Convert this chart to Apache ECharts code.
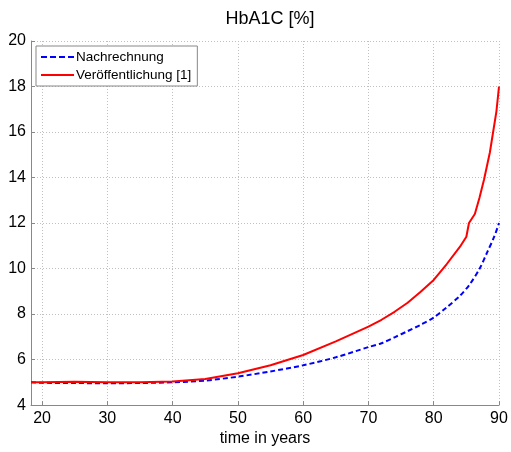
<!DOCTYPE html>
<html>
<head>
<meta charset="utf-8">
<script src="https://cdn.jsdelivr.net/npm/echarts@6/dist/echarts.min.js"></script>
<style>html,body{margin:0;padding:0;background:#fff}#c{width:511px;height:452px}</style>
</head>
<body>
<div id="c"></div>
<script>
var xTicks = [20, 30, 40, 50, 60, 70, 80, 90];
var yTicks = [4, 6, 8, 10, 12, 14, 16, 18, 20];

var nachX = [18.3, 20, 25, 30, 35, 40, 45, 50, 55, 60, 65, 70, 72, 74, 76, 78, 80, 82, 84, 85.5, 87, 88.2, 89.3, 90];
var nachY = [5.0, 4.98, 4.97, 4.96, 4.97, 5.0, 5.08, 5.25, 5.48, 5.75, 6.1, 6.55, 6.72, 6.98, 7.25, 7.53, 7.85, 8.3, 8.8, 9.3, 9.98, 10.72, 11.42, 12.0];

var veroX = [18.3, 20, 25, 30, 35, 40, 45, 50, 55, 60, 65, 70, 72, 74, 76, 78, 80, 82, 84, 85, 85.4, 86.3, 87, 87.7, 88.6, 89.1, 89.6, 90];
var veroY = [5.0, 5.0, 5.03, 5.0, 5.0, 5.04, 5.15, 5.4, 5.75, 6.2, 6.8, 7.45, 7.75, 8.1, 8.5, 8.98, 9.5, 10.2, 10.95, 11.4, 12.0, 12.4, 13.1, 13.9, 15.1, 16.0, 16.9, 18.0];

function pairs(xs, ys) { return xs.map(function (x, i) { return [x, ys[i]]; }); }

var chart = echarts.init(document.getElementById('c'), null, { renderer: 'canvas' });
var font = 'Liberation Sans, Arial, sans-serif';
var dashIcon = 'path://M0,0h6v2h-6z M9,0h6v2h-6z M18,0h6v2h-6z M27,0h6v2h-6z';
var solidIcon = 'path://M0,0h33v2h-33z';
chart.setOption({
  animation: false,
  backgroundColor: '#fff',
  title: {
    text: 'HbA1C [%]',
    left: 265, textAlign: 'center', top: 5,
    textStyle: { fontFamily: font, fontSize: 18, fontWeight: 'normal', color: '#000' }
  },
  legend: {
    orient: 'vertical',
    left: 36, top: 46,
    padding: [3, 6, 3, 5],
    itemGap: 2,
    itemWidth: 33, itemHeight: 2,
    backgroundColor: '#fff',
    borderColor: '#888', borderWidth: 1, borderRadius: 0,
    textStyle: { fontFamily: font, fontSize: 13.5, color: '#000', padding: [0, 0, 0, -3], lineHeight: 16 },
    data: [
      { name: 'Nachrechnung', icon: dashIcon, itemStyle: { color: '#0000ff' } },
      { name: 'Veröffentlichung [1]', icon: solidIcon, itemStyle: { color: '#ff0000' } }
    ]
  },
  grid: { left: 31, right: 12, top: 41, bottom: 43, containLabel: false },
  xAxis: {
    type: 'value', min: 18.3, max: 90,
    name: 'time in years', nameLocation: 'middle', nameGap: 25,
    nameTextStyle: { fontFamily: font, fontSize: 16, color: '#000' },
    axisLine: { onZero: false, lineStyle: { color: '#888', width: 1 } },
    axisTick: { inside: true, length: 4, customValues: xTicks, lineStyle: { color: '#888' } },
    axisLabel: { customValues: xTicks, fontFamily: font, fontSize: 16, color: '#000', margin: 5 },
    splitLine: { show: true, lineStyle: { type: [1, 2], color: '#c0c0c0', width: 1 } }
  },
  yAxis: {
    type: 'value', min: 4, max: 20, interval: 2,
    axisLine: { show: true, onZero: false, lineStyle: { color: '#888', width: 1 } },
    axisTick: { show: true, inside: true, length: 4, lineStyle: { color: '#888' } },
    axisLabel: { fontFamily: font, fontSize: 16, color: '#000', margin: 5 },
    splitLine: { show: true, lineStyle: { type: [1, 2], color: '#c0c0c0', width: 1 } }
  },
  series: [
    {
      name: 'Nachrechnung', type: 'line', data: pairs(nachX, nachY),
      showSymbol: false, symbol: 'none', smooth: 0.3,
      itemStyle: { color: '#0000ff' },
      lineStyle: { color: '#0000ff', width: 2, type: [5, 3] },
      z: 3
    },
    {
      name: 'Veröffentlichung [1]', type: 'line', data: pairs(veroX, veroY),
      showSymbol: false, symbol: 'none', smooth: false,
      itemStyle: { color: '#ff0000' },
      lineStyle: { color: '#ff0000', width: 2 },
      z: 4
    }
  ]
});
</script>
</body>
</html>
